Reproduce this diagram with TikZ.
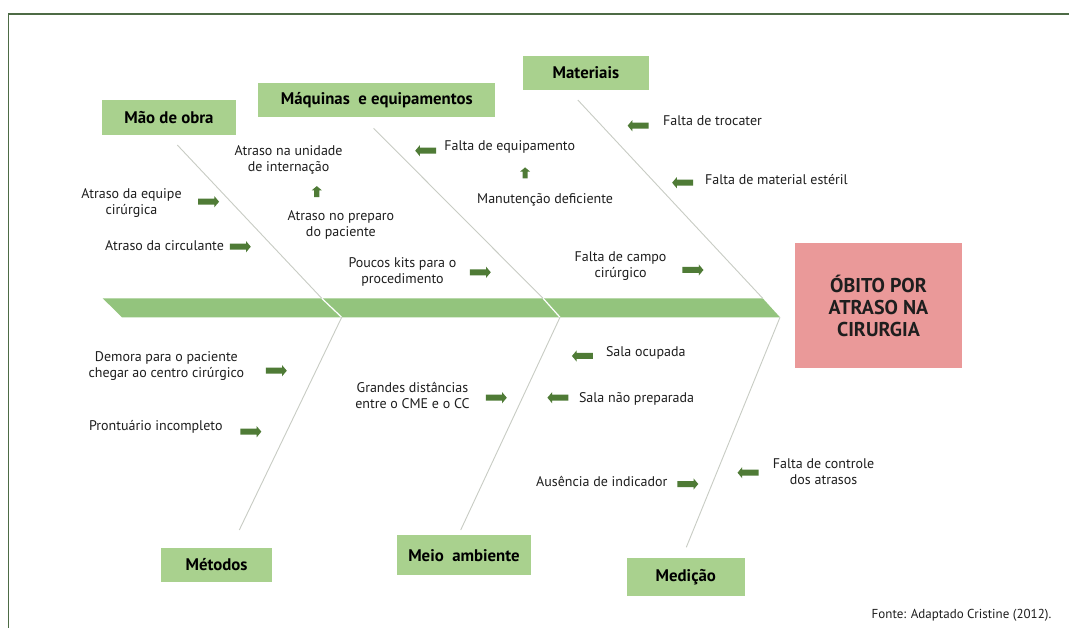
\documentclass[tikz,border=0pt]{standalone}
\usepackage{fontspec}
\setmainfont{PT Sans}
\usetikzlibrary{shapes.arrows}
\definecolor{boxgreen}{HTML}{A9D18E}
\definecolor{spinegreen}{HTML}{93C47D}
\definecolor{arrgreen}{HTML}{4F7B36}
\definecolor{framegreen}{HTML}{4D6B45}
\definecolor{diagline}{HTML}{C8CCC4}
\definecolor{pinkbox}{HTML}{EA9999}
\definecolor{txt}{HTML}{1E1E1E}
\begin{document}
\begin{tikzpicture}[x=1pt,y=-1pt,
  catbox/.style={fill=boxgreen, draw=none, inner sep=0pt, text=black,
    font=\bfseries\fontsize{16.8}{19}\selectfont},
  lbl/.style={font=\fontsize{14}{16}\selectfont, text=txt, align=center, inner sep=0pt},
  arrbase/.style={single arrow, fill=arrgreen, draw=none, inner xsep=0pt, inner ysep=2.8pt,
    single arrow head extend=2.6pt, single arrow tip angle=100},
  rarr/.style={arrbase, minimum height=21pt},
  larr/.style={arrbase, minimum height=21pt, shape border rotate=180},
  uarr/.style={arrbase, minimum height=11pt, inner xsep=2.4pt, inner ysep=0pt, single arrow head extend=2.4pt, shape border rotate=90},
  diag/.style={draw=diagline, line width=0.9pt},
  framel/.style={draw=framegreen, line width=1.2pt}
]
\useasboundingbox (0,0) rectangle (1069,628);
\fill[white] (0,0) rectangle (1069,628);
% frame
\coordinate (fbl) at (8.6,628);
\coordinate (ftl) at (8.6,14);
\coordinate (ftr) at (1069,14);
\draw[framel] (fbl) -- (ftl) -- (ftr);

% spine
\fill[spinegreen] (102.7,298.3) -- (762.7,298.3) -- (780,317.3) -- (122,317.3) -- cycle;
\coordinate (s1t) at (321.7,298.3);
\coordinate (s1b) at (341.7,317.3);
\coordinate (s2t) at (543,298.3);
\coordinate (s2b) at (560,317.3);
\coordinate (s3t) at (762.7,298.3);
\coordinate (s3b) at (780,317.3);
\draw[white, line width=1.2pt] (s1t) -- (s1b);
\draw[white, line width=1.2pt] (s2t) -- (s2b);

% diagonal bones
\coordinate (d1) at (177.3,145);
\coordinate (d2) at (373.6,128.3);
\coordinate (d3) at (577.8,100);
\coordinate (d4) at (239.3,530);
\coordinate (d5) at (460.7,530);
\coordinate (d6) at (686.3,547.3);
\draw[diag] (d1) -- (s1t);
\draw[diag] (d2) -- (s2t);
\draw[diag] (d3) -- (s3t);
\draw[diag] (s1b) -- (d4);
\draw[diag] (s2b) -- (d5);
\draw[diag] (s3b) -- (d6);

% category boxes
\node[catbox, minimum width=134pt, minimum height=35pt] (mao) at (169,117.5) {Mão de obra};
\node[catbox, minimum width=237pt, minimum height=34pt] (maq) at (376.8,99.7) {Máquinas\ \ e equipamentos};
\node[catbox, minimum width=126pt, minimum height=34pt] (mat) at (585.9,73) {Materiais};
\node[catbox, minimum width=111pt, minimum height=34pt] (met) at (216.6,564.7) {Métodos};
\node[catbox, minimum width=134pt, minimum height=40pt] (meio) at (464,555.3) {Meio\ \ ambiente};
\node[catbox, minimum width=118pt, minimum height=38pt] (med) at (685.8,577) {Medição};

% effect
\node[fill=pinkbox, draw=none, minimum width=167pt, minimum height=125pt, inner sep=0pt,
  align=center, text=txt, font=\bfseries\fontsize{20}{22}\selectfont] (efeito) at (878.5,305.5)
  {ÓBITO POR\\ATRASO NA\\CIRURGIA};

% causes
\node[lbl] (la1) at (288.6,159.7) {Atraso na unidade\\de internação};
\node[uarr] (ua1) at (316.8,192.7) {};
\node[lbl] (la2) at (340.9,225) {Atraso no preparo\\do paciente};
\node[lbl] (la3) at (131.5,203) {Atraso da equipe\\cirúrgica};
\node[rarr] (ra3) at (207.3,201.7) {};
\node[lbl] (la4) at (164.5,245.7) {Atraso da circulante};
\node[rarr] (ra4) at (239,246.7) {};
\node[lbl, anchor=west] (la5) at (444.2,146.7) {Falta de equipamento};
\node[larr] (ra5) at (427,150.7) {};
\node[uarr] (ua2) at (525.1,174) {};
\node[lbl, anchor=west] (la6) at (477,200) {Manutenção deficiente};
\node[lbl] (la7) at (402.5,272) {Poucos kits para o\\procedimento};
\node[rarr] (ra7) at (479,272.3) {};
\node[lbl, anchor=west] (la8) at (662.9,120.7) {Falta de trocater};
\node[larr] (ra8) at (639.4,125.7) {};
\node[lbl, anchor=west] (la9) at (704.9,180) {Falta de material estéril};
\node[larr] (ra9) at (683.9,182.7) {};
\node[lbl] (la10) at (620.6,266) {Falta de campo\\cirúrgico};
\node[rarr] (ra10) at (691.7,270) {};
\node[lbl] (la11) at (166.3,366.5) {Demora para o paciente\\chegar ao centro cirúrgico};
\node[rarr] (ra11) at (275,370.7) {};
\node[lbl] (la12) at (155.8,427.3) {Prontuário incompleto};
\node[rarr] (ra12) at (249.6,431.7) {};
\node[lbl] (la13) at (412.5,395) {Grandes distâncias\\entre o CME e o CC};
\node[rarr] (ra13) at (495,397.7) {};
\node[lbl, anchor=west] (la14) at (605.8,353.3) {Sala ocupada};
\node[larr] (ra14) at (583.7,356) {};
\node[lbl, anchor=west] (la15) at (578.8,399) {Sala não preparada};
\node[larr] (ra15) at (559.2,397.7) {};
\node[lbl] (la16) at (601.8,481.7) {Ausência de indicador};
\node[rarr] (ra16) at (686.5,484) {};
\node[lbl] (la17) at (823.6,472) {Falta de controle\\dos atrasos};
\node[larr] (ra17) at (749.3,472.7) {};

\node[lbl, anchor=east, font=\fontsize{13}{15}\selectfont] (fonte) at (1051.5,615) {Fonte: Adaptado Cristine (2012).};
\end{tikzpicture}
\end{document}
